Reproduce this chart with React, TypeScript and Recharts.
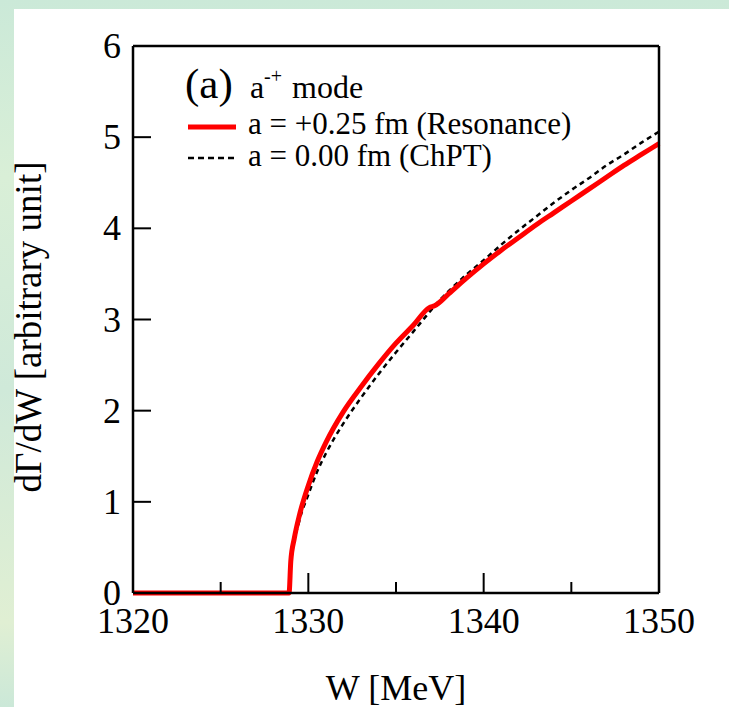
import React from 'react';
import { LineChart, Line, XAxis, YAxis, Legend } from 'recharts';

// energy W [MeV] and dGamma/dW
const W_RES = [1320, 1328.9, 1329.0, 1329.2, 1329.5, 1330, 1330.5, 1331, 1332, 1333, 1334, 1335, 1336, 1336.9, 1337.2, 1338, 1339, 1340, 1341, 1342, 1343, 1344, 1345, 1346, 1347, 1348, 1349, 1350];
const V_RES = [0, 0, 0.35, 0.6, 0.86, 1.18, 1.44, 1.65, 1.99, 2.26, 2.51, 2.74, 2.94, 3.13, 3.15, 3.28, 3.45, 3.61, 3.76, 3.9, 4.04, 4.17, 4.3, 4.43, 4.56, 4.69, 4.81, 4.93];

const W_CHPT = [1320, 1328.9, 1329.0, 1329.5, 1330, 1330.5, 1331, 1332, 1333, 1334, 1335, 1336, 1336.9, 1337.2, 1338, 1339, 1340, 1341, 1342, 1343, 1344, 1345, 1346, 1347, 1348, 1349, 1350];
const V_CHPT = [0, 0, 0.3, 0.8, 1.08, 1.33, 1.53, 1.86, 2.14, 2.4, 2.64, 2.87, 3.08, 3.15, 3.31, 3.49, 3.65, 3.82, 3.98, 4.13, 4.28, 4.42, 4.55, 4.69, 4.81, 4.94, 5.06];

const X_TICKS = [1320, 1325, 1330, 1335, 1340, 1345, 1350];
const Y_TICKS = [0, 1, 2, 3, 4, 5, 6];

const RES_LABEL = 'a = +0.25 fm (Resonance)';
const CHPT_LABEL = 'a = 0.00 fm (ChPT)';

const resData = W_RES.map((w, i) => ({ w, v: V_RES[i] }));
const chptData = W_CHPT.map((w, i) => ({ w, v: V_CHPT[i] }));

const FONT = '"Liberation Serif", "Times New Roman", serif';

// ticks drawn inward from the frame, labels only on bottom/left
const XTick = ({ x, payload, side }: any) => {
  const major = payload.value % 10 === 0;
  const len = major ? 20 : 11;
  const y0 = side === 'bottom' ? 593 : 46;
  const dir = side === 'bottom' ? -1 : 1;
  return (
    <g>
      <line x1={x} y1={y0} x2={x} y2={y0 + dir * len} stroke="#000" strokeWidth={2} />
      {side === 'bottom' && major && (
        <text x={x} y={y0 + 40} textAnchor="middle" fontSize={36} fontFamily={FONT} fill="#000">
          {payload.value}
        </text>
      )}
    </g>
  );
};

const YTick = ({ y, payload, side }: any) => {
  const x0 = side === 'left' ? 133 : 659;
  const dir = side === 'left' ? 1 : -1;
  return (
    <g>
      <line x1={x0} y1={y} x2={x0 + dir * 18} y2={y} stroke="#000" strokeWidth={2} />
      {side === 'left' && (
        <text x={x0 - 12} y={y + 12} textAnchor="end" fontSize={36} fontFamily={FONT} fill="#000">
          {payload.value}
        </text>
      )}
    </g>
  );
};

const XLabel = () => (
  <text x={396} y={700} textAnchor="middle" fontSize={36} fontFamily={FONT} fill="#000">
    W [MeV]
  </text>
);

const YLabel = () => (
  <text x={41} y={327} transform="rotate(-90 41 327)" textAnchor="middle" fontSize={37} fontFamily={FONT} fill="#000">
    dΓ/dW [arbitrary unit]
  </text>
);

const LegendBox = () => (
  <svg width={729} height={200} style={{ overflow: 'visible' }}>
    <text x={185} y={98} fontSize={43} fontFamily={FONT} fill="#000">(a)</text>
    <text x={250} y={98} fontSize={32} fontFamily={FONT} fill="#000">a</text>
    <text x={264} y={83} fontSize={20} fontFamily={FONT} fill="#000">-+</text>
    <text x={292} y={98} fontSize={32} fontFamily={FONT} fill="#000">mode</text>
    <line x1={188} y1={127} x2={236} y2={127} stroke="#ff0000" strokeWidth={5} />
    <text x={248} y={134} fontSize={31} fontFamily={FONT} fill="#000">{RES_LABEL}</text>
    <line x1={188} y1={158} x2={236} y2={158} stroke="#000" strokeWidth={2.5} strokeDasharray="6 4" />
    <text x={248} y={166} fontSize={31} fontFamily={FONT} fill="#000">{CHPT_LABEL}</text>
  </svg>
);

export default function App() {
  return (
    <div style={{ position: 'absolute', left: 0, top: 0, width: 729, height: 707, overflow: 'hidden',
      background: 'linear-gradient(180deg, #cbe9d8 0%, #d9efd7 25%, #cfe9d9 55%, #e0efd3 88%, #cbe8d8 100%)' }}>
      <div style={{ position: 'absolute', left: 14, top: 9, right: 0, bottom: 0, background: '#fff' }} />
      <div style={{ position: 'absolute', left: 0, top: 0 }}>
        <LineChart width={729} height={707} margin={{ top: 45, right: 69, bottom: 113, left: 132 }}>
          <XAxis dataKey="w" type="number" domain={[1320, 1350]} ticks={X_TICKS} interval={0}
            height={1} tickSize={0} tickMargin={0} stroke="#000" strokeWidth={2.5}
            tick={<XTick side="bottom" />} label={<XLabel />} />
          <XAxis xAxisId="top" orientation="top" dataKey="w" type="number" domain={[1320, 1350]} ticks={X_TICKS}
            interval={0} height={1} tickSize={0} tickMargin={0} stroke="#000" strokeWidth={2.5}
            tick={<XTick side="top" />} />
          <YAxis type="number" domain={[0, 6]} ticks={Y_TICKS} interval={0} width={1} tickSize={0}
            tickMargin={0} stroke="#000" strokeWidth={2.5} tick={<YTick side="left" />} label={<YLabel />} />
          <YAxis yAxisId="right" orientation="right" type="number" domain={[0, 6]} ticks={Y_TICKS} interval={0}
            width={1} tickSize={0} tickMargin={0} stroke="#000" strokeWidth={2.5} tick={<YTick side="right" />} />
          <Line data={chptData} dataKey="v" name={CHPT_LABEL} type="monotone" stroke="#000" strokeWidth={2.5}
            strokeDasharray="5 4" dot={false} isAnimationActive={false} />
          <Line data={resData} dataKey="v" name={RES_LABEL} type="monotone" stroke="#ff0000" strokeWidth={5}
            dot={false} isAnimationActive={false} />
          <Legend layout="horizontal" verticalAlign="middle" align="center" content={<LegendBox />}
            wrapperStyle={{ left: 0, top: 0, width: 729, height: 200 }} />
        </LineChart>
      </div>
    </div>
  );
}
